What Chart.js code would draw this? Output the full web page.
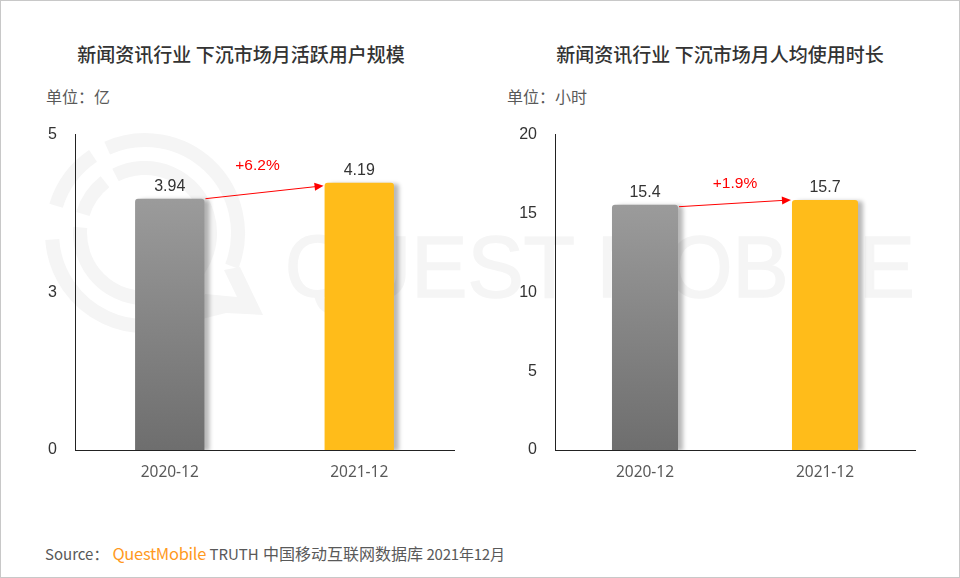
<!DOCTYPE html>
<html>
<head>
<meta charset="utf-8">
<script src="https://cdn.jsdelivr.net/npm/chart.js@4/dist/chart.umd.min.js"></script>
<style>
    html, body { margin: 0; padding: 0; background: #fff; }
    #page { position: relative; width: 960px; height: 578px; box-sizing: border-box; border: 1px solid #c8c8c8; overflow: hidden; background: #fff; }
    #watermark { position: absolute; left: -1px; top: -1px; }
    canvas { position: absolute; }
    .title, .unit, .source { position: absolute; white-space: nowrap; font-family: "Noto Sans CJK SC", "Noto Sans", sans-serif; }
    .title { top: 39px; width: 480px; text-align: center; font-size: 19px; line-height: 28px; font-weight: 500; color: #333; }
    .unit { top: 83px; font-size: 16px; line-height: 24px; color: #595959; }
    .source { left: 44px; top: 540px; font-size: 15px; line-height: 24px; color: #595959; }
    .source b { font-weight: 400; font-size: 16.5px; color: #ff9a1f; letter-spacing: -0.3px; margin-left: 4px; }
    .source .cjk { font-size: 16px; margin-left: 1px; }
    .source .date { letter-spacing: -0.2px; }
</style>
</head>
<body>
<div id="page">
    <svg id="watermark" width="960" height="578" fill="none">
        <g stroke="#f5f5f5" stroke-width="14">
            <path id="ringOuterA"/><path id="ringOuterB"/><path id="ringOuterC"/>
            <path id="ringInnerA"/><path id="ringInnerB"/>
        </g>
        <path d="M240 267 L263 315 L226 313 L190 322 L205 294 L237 297 L224 270 Z" fill="#f5f5f5"/>
        <text x="285" y="297" textLength="630" lengthAdjust="spacingAndGlyphs" font-family="Liberation Sans" font-size="88" fill="#f5f5f5" stroke="#f5f5f5" stroke-width="1.5">QUEST MOBILE</text>
    </svg>

    <div class="title" style="left:0">新闻资讯行业 下沉市场月活跃用户规模</div>
    <div class="title" style="left:479px">新闻资讯行业 下沉市场月人均使用时长</div>
    <div class="unit" style="left:45px">单位：亿</div>
    <div class="unit" style="left:506px">单位：小时</div>
    <canvas id="usersChart" style="left:-1px;top:106px"></canvas>
    <canvas id="timeChart" style="left:478px;top:106px"></canvas>
    <div class="source">Source：<b>QuestMobile</b> TRUTH <span class="cjk">中国移动互联网数据库</span> <span class="date">2021年12月</span></div>
</div>

<script>
const categories = ['2020-12', '2021-12'];

const userValues = [3.94, 4.19];
const userTicks = ['0', '3', '5'];
const userAxisMax = 4.945;
const userChange = '+6.2%';

const timeValues = [15.4, 15.7];
const timeTicks = ['0', '5', '10', '15', '20'];
const timeAxisMax = 19.8;
const timeChange = '+1.9%';

// ─── Watermark rings ───────────────────────────────────────────

function arcPath(r, fromDeg, toDeg) {
    const cx = 145, cy = 233;
    const pt = d => [cx + r * Math.cos(d * Math.PI / 180), cy + r * Math.sin(d * Math.PI / 180)];
    const [x1, y1] = pt(fromDeg);
    const [x2, y2] = pt(toDeg);
    const span = ((toDeg - fromDeg) % 360 + 360) % 360;
    return `M${x1} ${y1} A${r} ${r} 0 ${span > 180 ? 1 : 0} 1 ${x2} ${y2}`;
}
document.getElementById('ringOuterA').setAttribute('d', arcPath(93, 197, 236));
document.getElementById('ringOuterB').setAttribute('d', arcPath(93, 246, 21));
document.getElementById('ringOuterC').setAttribute('d', arcPath(93, 54, 176));
document.getElementById('ringInnerA').setAttribute('d', arcPath(65, 197, 232));
document.getElementById('ringInnerB').setAttribute('d', arcPath(65, 243, 185));

// ─── Bar shadow, value labels and growth arrow ─────────────────

const barExtras = {
    id: 'barExtras',
    beforeDatasetDraw(chart) {
        const ctx = chart.ctx;
        ctx.save();
        ctx.shadowColor = 'rgba(0,0,0,0.28)';
        ctx.shadowBlur = 4;
        ctx.shadowOffsetX = 5;
        ctx.shadowOffsetY = 1;
    },
    afterDatasetDraw(chart) {
        chart.ctx.restore();
    },
    afterDatasetsDraw(chart, args, opts) {
        const ctx = chart.ctx;
        const bars = chart.getDatasetMeta(0).data;
        const values = chart.data.datasets[0].data;

        ctx.save();
        ctx.font = '16px "Liberation Sans"';
        ctx.textAlign = 'center';
        ctx.textBaseline = 'middle';
        ctx.fillStyle = '#333';
        bars.forEach((bar, i) => ctx.fillText(values[i], bar.x, bar.y - 12));

        const x1 = bars[0].x + bars[0].width / 2 + 1;
        const y1 = bars[0].y + opts.startDy;
        const x2 = bars[1].x - bars[1].width / 2 - 1;
        const y2 = bars[1].y + opts.endDy;
        const angle = Math.atan2(y2 - y1, x2 - x1);

        ctx.strokeStyle = '#ff0000';
        ctx.fillStyle = '#ff0000';
        ctx.lineWidth = 1;
        ctx.beginPath();
        ctx.moveTo(x1, y1);
        ctx.lineTo(x2 - 8 * Math.cos(angle), y2 - 8 * Math.sin(angle));
        ctx.stroke();
        ctx.translate(x2, y2);
        ctx.rotate(angle);
        ctx.beginPath();
        ctx.moveTo(0, 0);
        ctx.lineTo(-9, -4);
        ctx.lineTo(-9, 4);
        ctx.closePath();
        ctx.fill();
        ctx.rotate(-angle);
        ctx.translate(-x2, -y2);

        ctx.font = '15.5px "Liberation Sans"';
        ctx.fillText(opts.label, (x1 + x2) / 2 + opts.dx, (y1 + y2) / 2 + opts.dy);
        ctx.restore();
    }
};

function grayGradient(c) {
    const { chart, dataIndex } = c;
    if (!chart.chartArea) return '#888';
    const top = chart.scales.y.getPixelForValue(c.dataset.data[dataIndex]);
    const g = chart.ctx.createLinearGradient(0, top, 0, chart.chartArea.bottom);
    g.addColorStop(0, '#9b9b9b');
    g.addColorStop(1, '#6e6e6e');
    return g;
}

function drawChart(id, width, values, ticks, axisMax, barPct, arrow) {
    return new Chart(document.getElementById(id), {
        type: 'bar',
        data: {
            labels: categories,
            datasets: [{
                data: values,
                backgroundColor: c => c.dataIndex === 0 ? grayGradient(c) : '#ffbc1a',
                borderRadius: 3,
                barPercentage: barPct,
                categoryPercentage: 1
            }]
        },
        options: {
            responsive: false,
            animation: false,
            events: [],
            layout: { padding: { top: 3, right: width.right, left: 0, bottom: 0 } },
            plugins: {
                legend: { display: false },
                tooltip: { enabled: false },
                title: { display: false },
                barExtras: arrow
            },
            scales: {
                x: {
                    afterFit(s) { s.height = 31; },
                    grid: { display: false, drawTicks: false },
                    border: { color: '#222', width: 1 },
                    ticks: { color: '#595959', padding: 13, font: { family: 'Noto Sans', size: 15.5 } }
                },
                y: {
                    min: 0,
                    max: axisMax,
                    afterFit(s) { s.width = width.left; },
                    afterBuildTicks(s) {
                        s.ticks = ticks.map((t, i) => ({ value: axisMax * i / (ticks.length - 1) }));
                    },
                    grid: { display: false, drawTicks: false },
                    border: { color: '#222', width: 1 },
                    ticks: {
                        color: '#333',
                        padding: 18,
                        autoSkip: false,
                        font: { family: 'Liberation Sans', size: 16 },
                        callback: (v, i) => ticks[i]
                    }
                }
            }
        },
        plugins: [barExtras]
    });
}

function sizeCanvas(id, w, h) {
    const el = document.getElementById(id);
    el.width = w;
    el.height = h;
}

sizeCanvas('usersChart', 480, 374);
sizeCanvas('timeChart', 480, 374);
drawChart('usersChart', { left: 75, right: 26 }, userValues, userTicks, userAxisMax, 0.366,
    { label: userChange, dx: -7, dy: -27, startDy: 0, endDy: 3 });
drawChart('timeChart', { left: 76, right: 44 }, timeValues, timeTicks, timeAxisMax, 0.367,
    { label: timeChange, dx: 0, dy: -20, startDy: 2, endDy: 0 });
</script>
</body>
</html>
